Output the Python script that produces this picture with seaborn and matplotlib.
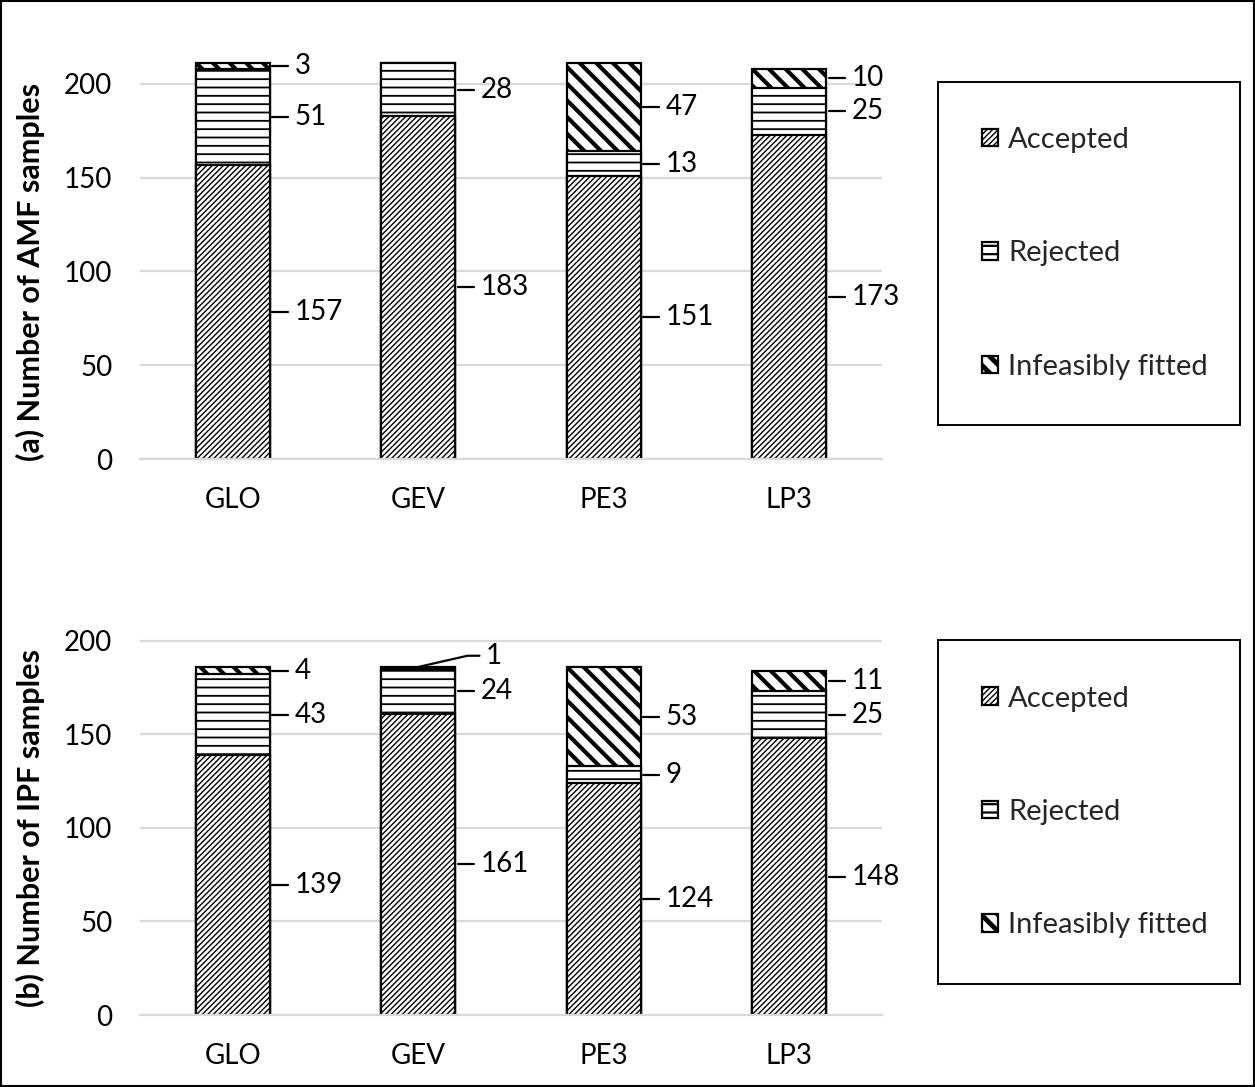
import numpy as np
import pandas as pd
import matplotlib
matplotlib.use("Agg")
import matplotlib.pyplot as plt
import seaborn as sns
from matplotlib.patches import Rectangle, Patch

# ---------------- data ----------------
cats = ["GLO", "GEV", "PE3", "LP3"]
amf_accepted = [157, 183, 151, 173]
amf_rejected = [51, 28, 13, 25]
amf_infeasible = [3, 0, 47, 10]
ipf_accepted = [139, 161, 124, 148]
ipf_rejected = [43, 24, 9, 25]
ipf_infeasible = [4, 1, 53, 11]
series_names = ["Accepted", "Rejected", "Infeasibly fitted"]
ylabels = ["(a) Number of AMF samples", "(b) Number of IPF samples"]
yticks = [0, 50, 100, 150, 200]

# ---------------- style ----------------
sns.set_theme(style="white")
plt.rcParams["font.family"] = ["Lato", "DejaVu Sans"]
FS = 20
FS_LAB = 22
FS_LEG = 21
GRID = "#d9d9d9"
H_ACC, H_REJ, H_INF = "//////", "--", "\\\\"
HLW = {H_ACC: 1.0, H_REJ: 1.3, H_INF: 3.0}

fig = plt.figure(figsize=(12.55, 10.87), dpi=100)
W, H = 1255, 1087


def set_hlw(patches, lw):
    for p in patches:
        if hasattr(p, "set_hatch_linewidth"):
            p.set_hatch_linewidth(lw)


def panel(ax, acc, rej, inf, ylabel):
    df = pd.DataFrame({"dist": cats, "acc": acc, "rej": rej, "inf": inf})
    df["top2"] = df["acc"] + df["rej"]
    df["top3"] = df["top2"] + df["inf"]
    for col, h in [("top3", H_INF), ("top2", H_REJ), ("acc", H_ACC)]:
        with plt.rc_context({"hatch.linewidth": HLW[h]}):
            sns.barplot(data=df, x="dist", y=col, color="white", saturation=1,
                        edgecolor="black", linewidth=1.6, hatch=h, width=0.4,
                        errorbar=None, ax=ax)
        set_hlw(ax.containers[-1], HLW[h])
    bars = ax.containers[-1]

    # data labels with leader lines
    for i in range(len(cats)):
        vals = [acc[i], rej[i], inf[i]]
        bounds = np.concatenate([[0], np.cumsum(vals)])
        p = bars[i]
        xr = p.get_x() + p.get_width()
        xc = p.get_x() + p.get_width() / 2
        prev = None
        for k, v in enumerate(vals):
            if v <= 0:
                continue
            lo, hi = bounds[k], bounds[k + 1]
            y = (lo + hi) / 2
            if prev is not None and y - prev < 15:
                ylab = prev + 19
                ax.plot([xc, xr + 0.065, xr + 0.13], [hi, ylab, ylab],
                        color="black", lw=1.6, clip_on=False, zorder=5)
                ax.text(xr + 0.165, ylab, str(v), ha="left", va="center",
                        fontsize=FS, color="black")
            else:
                ylab = y
                ax.plot([xr + 0.012, xr + 0.10], [y, y], color="black",
                        lw=1.6, clip_on=False, zorder=5)
                ax.text(xr + 0.135, y, str(v), ha="left", va="center",
                        fontsize=FS, color="black")
            prev = ylab

    ax.set_xlim(-0.5, len(cats) - 0.5)
    ax.set_ylim(0, 225)
    ax.set_yticks(yticks)
    ax.yaxis.grid(True, color=GRID, lw=1.6)
    ax.xaxis.grid(False)
    ax.set_axisbelow(True)
    for s in ["left", "top", "right"]:
        ax.spines[s].set_visible(False)
    ax.spines["bottom"].set_color(GRID)
    ax.spines["bottom"].set_linewidth(1.6)
    ax.tick_params(axis="both", length=0, pad=20, labelsize=FS, colors="black")
    ax.set_xlabel("")
    ax.set_ylabel(ylabel, fontsize=FS_LAB, fontweight="bold", color="black")
    ax.yaxis.set_label_coords(-0.128, 0.443)
    ax.patch.set_alpha(0)


ax1 = fig.add_axes([140 / W, 1 - 459 / H, 742 / W, 422 / H])
ax2 = fig.add_axes([140 / W, 1 - 1015 / H, 742 / W, 421 / H])
panel(ax1, amf_accepted, amf_rejected, amf_infeasible, ylabels[0])
panel(ax2, ipf_accepted, ipf_rejected, ipf_infeasible, ylabels[1])

# legends
leg_hatch = ["//////", "--", "\\\\"]
leg_hlw = [1.0, 1.6, 3.5]
for ax, (top, bot) in zip([ax1, ax2], [(82, 425), (640, 984)]):
    fig.add_artist(Rectangle((938 / W, 1 - bot / H), 302 / W, (bot - top) / H,
                             transform=fig.transFigure, fill=False,
                             edgecolor="black", lw=1.4))
    handles = [Patch(facecolor="white", edgecolor="black", lw=1.6, hatch=h)
               for h in leg_hatch]
    for hp, lw in zip(handles, leg_hlw):
        set_hlw([hp], lw)
    leg = ax.legend(handles, series_names, loc="center left",
                    bbox_to_anchor=(982 / W, 1 - (top + bot) / 2 / H),
                    bbox_transform=fig.transFigure, frameon=False,
                    fontsize=FS_LEG, handlelength=0.55, handleheight=0.55,
                    handletextpad=0.35, labelspacing=3.0, borderpad=0,
                    borderaxespad=0)
    set_hlw(leg.get_patches(), 1.0)
    for lp, lw in zip(leg.get_patches(), leg_hlw):
        set_hlw([lp], lw)

# outer border
fig.add_artist(Rectangle((0.001, 0.001), 0.998, 0.998, transform=fig.transFigure,
                         fill=False, edgecolor="black", lw=1.5))

fig.savefig("out.png", dpi=100)
